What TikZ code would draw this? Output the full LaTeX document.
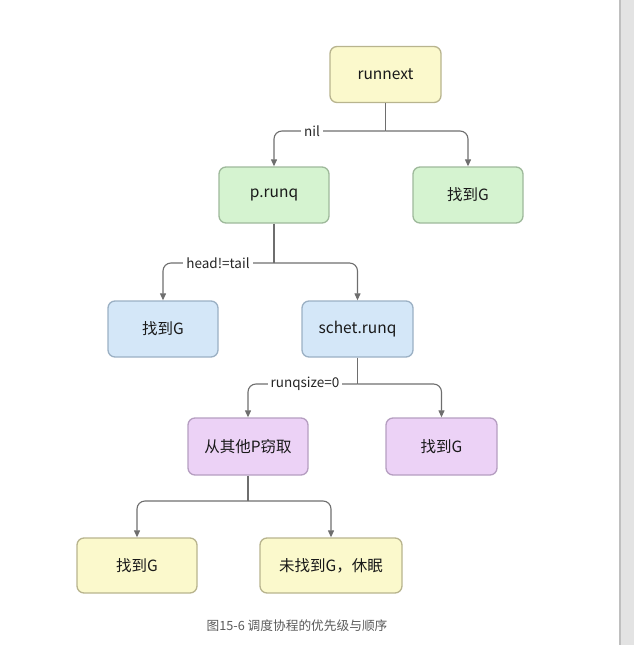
\documentclass[tikz,border=0pt]{standalone}
\usepackage{fontspec}
\setmainfont{Noto Sans CJK SC}
\usetikzlibrary{arrows.meta}
\definecolor{yelfill}{HTML}{FBF9CC}
\definecolor{yeldraw}{HTML}{B8B48E}
\definecolor{grnfill}{HTML}{D5F3D0}
\definecolor{grndraw}{HTML}{9EB99B}
\definecolor{blufill}{HTML}{D4E7F8}
\definecolor{bludraw}{HTML}{9BB0C4}
\definecolor{purfill}{HTML}{ECD2F6}
\definecolor{purdraw}{HTML}{B59EC1}
\definecolor{linegray}{HTML}{6E6E6E}
\begin{document}
\begin{tikzpicture}[x=1pt,y=-1pt,
    box/.style={rounded corners=7pt, line width=1.3pt, minimum height=56pt,
        minimum width=110pt, font=\fontsize{15.5}{18}\selectfont, text=black!90},
    yel/.style={box, fill=yelfill, draw=yeldraw},
    grn/.style={box, fill=grnfill, draw=grndraw},
    blu/.style={box, fill=blufill, draw=bludraw},
    pur/.style={box, fill=purfill, draw=purdraw},
    conn/.style={draw=linegray, line width=1.1pt, rounded corners=8pt},
    arr/.style={conn, -{Triangle[length=7pt,width=6pt]}},
    lbl/.style={fill=white, inner sep=3pt, font=\fontsize{13.5}{16}\selectfont, text=black!85}]
    \useasboundingbox (0,0) rectangle (634,645);
    % Page edge
    \fill[black!11] (619,0) rectangle (634,645);
    \draw[black!25, line width=2pt] (620,0) -- (620,645);

    % Boxes
    \node[yel, minimum width=111pt] (runnext) at (385.5,74.5) {runnext};
    \node[grn] (prunq) at (274,195) {p.runq};
    \node[grn] (gotg1) at (468,195) {找到G};
    \node[blu] (gotg2) at (163,329) {找到G};
    \node[blu, minimum width=111pt] (schet) at (357.5,329) {schet.runq};
    \node[pur, minimum width=120pt, minimum height=57pt] (steal) at (248,446.5) {从其他P窃取};
    \node[pur, minimum width=111pt, minimum height=57pt] (gotg3) at (441.5,446.5) {找到G};
    \node[yel, minimum width=120pt, minimum height=55pt] (gotg4) at (137,565.5) {找到G};
    \node[yel, minimum width=142pt, minimum height=55pt] (sleep) at (331,565.5) {未找到G，休眠};

    % Connectors
    \draw[conn] (runnext.south) -- (runnext.south |- 0,131) coordinate (j1);
    \draw[arr] (j1) -| (prunq.north);
    \draw[arr] (j1) -| (gotg1.north);
    \draw[conn] (prunq.south) -- (prunq.south |- 0,263) coordinate (j2);
    \draw[arr] (j2) -| (gotg2.north);
    \draw[arr] (j2) -| (schet.north);
    \draw[conn] (schet.south) -- (schet.south |- 0,384) coordinate (j3);
    \draw[arr] (j3) -| (steal.north);
    \draw[arr] (j3) -| (gotg3.north);
    \draw[conn] (steal.south) -- (steal.south |- 0,501) coordinate (j4);
    \draw[arr] (j4) -| (gotg4.north);
    \draw[arr] (j4) -| (sleep.north);

    % Branch labels
    \node[lbl] (nil) at (312,131) {nil};
    \node[lbl] (ht) at (218,263) {head!=tail};
    \node[lbl] (rq) at (305,384) {runqsize=0};

    % Caption
    \node[font=\fontsize{12.7}{15}\selectfont, text=black!65] (cap) at (297,626) {图15-6 调度协程的优先级与顺序};
\end{tikzpicture}
\end{document}
